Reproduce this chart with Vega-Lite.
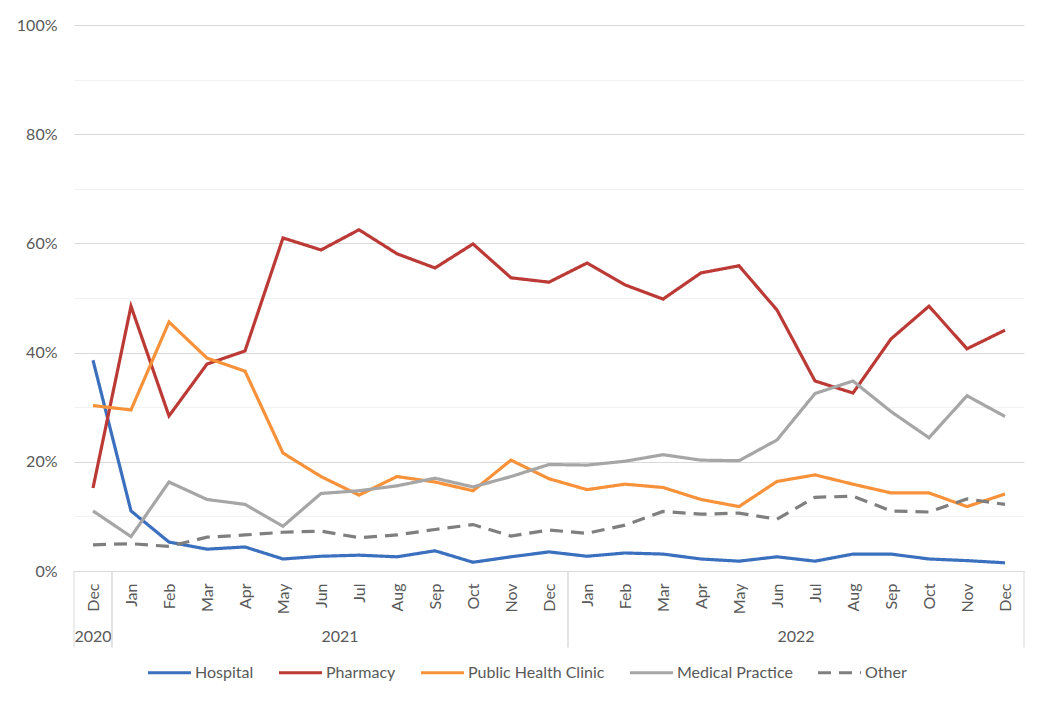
{
  "$schema": "https://vega.github.io/schema/vega-lite/v6.json",
  "width": 950,
  "height": 546,
  "autosize": {"type": "none"},
  "padding": {"left": 74, "top": 25, "right": 26, "bottom": 132},
  "background": "white",
  "config": {
    "view": {"stroke": null},
    "font": "Lato",
    "axis": {"labelFont": "Lato", "labelFontSize": 16, "labelColor": "#595959", "labelOverlap": false, "labelFlush": false, "labelBound": false},
    "legend": {"labelFont": "Lato"}
  },
  "data": {
    "values": [
      {"i": 0, "year": "2020", "mon": "Dec", "Hospital": 0.386, "Pharmacy": 0.152, "Public Health Clinic": 0.303, "Medical Practice": 0.110, "Other": 0.048},
      {"i": 1, "year": "2021", "mon": "Jan", "Hospital": 0.110, "Pharmacy": 0.485, "Public Health Clinic": 0.295, "Medical Practice": 0.063, "Other": 0.050},
      {"i": 2, "year": "2021", "mon": "Feb", "Hospital": 0.053, "Pharmacy": 0.284, "Public Health Clinic": 0.456, "Medical Practice": 0.163, "Other": 0.045},
      {"i": 3, "year": "2021", "mon": "Mar", "Hospital": 0.040, "Pharmacy": 0.379, "Public Health Clinic": 0.390, "Medical Practice": 0.131, "Other": 0.062},
      {"i": 4, "year": "2021", "mon": "Apr", "Hospital": 0.044, "Pharmacy": 0.403, "Public Health Clinic": 0.366, "Medical Practice": 0.122, "Other": 0.066},
      {"i": 5, "year": "2021", "mon": "May", "Hospital": 0.022, "Pharmacy": 0.610, "Public Health Clinic": 0.216, "Medical Practice": 0.082, "Other": 0.071},
      {"i": 6, "year": "2021", "mon": "Jun", "Hospital": 0.027, "Pharmacy": 0.588, "Public Health Clinic": 0.173, "Medical Practice": 0.142, "Other": 0.073},
      {"i": 7, "year": "2021", "mon": "Jul", "Hospital": 0.029, "Pharmacy": 0.625, "Public Health Clinic": 0.139, "Medical Practice": 0.147, "Other": 0.061},
      {"i": 8, "year": "2021", "mon": "Aug", "Hospital": 0.026, "Pharmacy": 0.581, "Public Health Clinic": 0.173, "Medical Practice": 0.156, "Other": 0.066},
      {"i": 9, "year": "2021", "mon": "Sep", "Hospital": 0.037, "Pharmacy": 0.555, "Public Health Clinic": 0.163, "Medical Practice": 0.170, "Other": 0.076},
      {"i": 10, "year": "2021", "mon": "Oct", "Hospital": 0.016, "Pharmacy": 0.599, "Public Health Clinic": 0.147, "Medical Practice": 0.154, "Other": 0.085},
      {"i": 11, "year": "2021", "mon": "Nov", "Hospital": 0.026, "Pharmacy": 0.537, "Public Health Clinic": 0.203, "Medical Practice": 0.173, "Other": 0.064},
      {"i": 12, "year": "2021", "mon": "Dec", "Hospital": 0.035, "Pharmacy": 0.529, "Public Health Clinic": 0.169, "Medical Practice": 0.195, "Other": 0.075},
      {"i": 13, "year": "2022", "mon": "Jan", "Hospital": 0.027, "Pharmacy": 0.564, "Public Health Clinic": 0.149, "Medical Practice": 0.194, "Other": 0.069},
      {"i": 14, "year": "2022", "mon": "Feb", "Hospital": 0.033, "Pharmacy": 0.524, "Public Health Clinic": 0.159, "Medical Practice": 0.201, "Other": 0.084},
      {"i": 15, "year": "2022", "mon": "Mar", "Hospital": 0.031, "Pharmacy": 0.498, "Public Health Clinic": 0.153, "Medical Practice": 0.213, "Other": 0.109},
      {"i": 16, "year": "2022", "mon": "Apr", "Hospital": 0.022, "Pharmacy": 0.546, "Public Health Clinic": 0.131, "Medical Practice": 0.203, "Other": 0.104},
      {"i": 17, "year": "2022", "mon": "May", "Hospital": 0.018, "Pharmacy": 0.559, "Public Health Clinic": 0.118, "Medical Practice": 0.202, "Other": 0.106},
      {"i": 18, "year": "2022", "mon": "Jun", "Hospital": 0.026, "Pharmacy": 0.478, "Public Health Clinic": 0.164, "Medical Practice": 0.240, "Other": 0.095},
      {"i": 19, "year": "2022", "mon": "Jul", "Hospital": 0.018, "Pharmacy": 0.348, "Public Health Clinic": 0.176, "Medical Practice": 0.325, "Other": 0.135},
      {"i": 20, "year": "2022", "mon": "Aug", "Hospital": 0.031, "Pharmacy": 0.326, "Public Health Clinic": 0.159, "Medical Practice": 0.348, "Other": 0.137},
      {"i": 21, "year": "2022", "mon": "Sep", "Hospital": 0.031, "Pharmacy": 0.425, "Public Health Clinic": 0.143, "Medical Practice": 0.292, "Other": 0.110},
      {"i": 22, "year": "2022", "mon": "Oct", "Hospital": 0.022, "Pharmacy": 0.485, "Public Health Clinic": 0.143, "Medical Practice": 0.244, "Other": 0.108},
      {"i": 23, "year": "2022", "mon": "Nov", "Hospital": 0.019, "Pharmacy": 0.407, "Public Health Clinic": 0.118, "Medical Practice": 0.321, "Other": 0.132},
      {"i": 24, "year": "2022", "mon": "Dec", "Hospital": 0.015, "Pharmacy": 0.441, "Public Health Clinic": 0.141, "Medical Practice": 0.283, "Other": 0.122}
    ]
  },
  "layer": [
    {
      "transform": [
        {"fold": ["Hospital", "Pharmacy", "Public Health Clinic", "Medical Practice", "Other"], "as": ["series", "value"]}
      ],
      "mark": {"type": "line", "strokeWidth": 3.2, "strokeCap": "butt", "strokeJoin": "miter", "clip": false},
      "encoding": {
        "x": {
          "field": "i", "type": "quantitative",
          "scale": {"domain": [-0.5, 24.5], "nice": false, "zero": false},
          "axis": {
            "title": null,
            "values": [0,1,2,3,4,5,6,7,8,9,10,11,12,13,14,15,16,17,18,19,20,21,22,23,24],
            "tickCount": 30,
            "labelExpr": "['Dec','Jan','Feb','Mar','Apr','May','Jun','Jul','Aug','Sep','Oct','Nov'][round(datum.value) % 12]",
            "labelAngle": 270,
            "labelPadding": 12,
            "labelOverlap": false,
            "labelFlush": false,
            "labelBound": false,
            "ticks": false,
            "tickSize": 0,
            "grid": false,
            "domain": true,
            "domainColor": "#d9d9d9",
            "domainWidth": 1
          }
        },
        "y": {
          "field": "value", "type": "quantitative",
          "scale": {"domain": [0, 1], "nice": false},
          "axis": {
            "title": null,
            "values": [0, 0.1, 0.2, 0.3, 0.4, 0.5, 0.6, 0.7, 0.8, 0.9, 1],
            "tickCount": 20,
            "labelExpr": "round(datum.value * 10) % 2 == 0 ? format(datum.value, '.0%') : ''",
            "labelPadding": 17,
            "ticks": false,
            "tickSize": 0,
            "domain": false,
            "grid": true,
            "gridColor": {"condition": {"test": "round(datum.value * 10) % 2 == 0", "value": "#d9d9d9"}, "value": "#f2f2f2"},
            "gridWidth": 1
          }
        },
        "color": {
          "field": "series", "type": "nominal",
          "scale": {
            "domain": ["Hospital", "Pharmacy", "Public Health Clinic", "Medical Practice", "Other"],
            "range": ["#3A70BE", "#BC3A36", "#F7923A", "#A6A6A6", "#7F7F7F"]
          },
          "legend": {
            "title": null,
            "orient": "none",
            "direction": "horizontal",
            "legendX": 72,
            "legendY": 624,
            "symbolType": "stroke",
            "symbolSize": 1849,
            "symbolStrokeWidth": 3.2,
            "labelFontSize": 16,
            "labelColor": "#595959",
            "labelOffset": 2,
            "columnPadding": 18,
            "symbolOffset": 0
          }
        },
        "strokeDash": {
          "field": "series", "type": "nominal",
          "scale": {
            "domain": ["Hospital", "Pharmacy", "Public Health Clinic", "Medical Practice", "Other"],
            "range": [[1, 0], [1, 0], [1, 0], [1, 0], [13, 8]]
          },
          "legend": {
            "title": null,
            "orient": "none",
            "direction": "horizontal",
            "legendX": 72,
            "legendY": 624,
            "symbolType": "stroke",
            "symbolSize": 1849,
            "symbolStrokeWidth": 3.2,
            "labelFontSize": 16,
            "labelColor": "#595959",
            "labelOffset": 2,
            "columnPadding": 18,
            "symbolOffset": 0
          }
        }
      }
    },
    {
      "transform": [
        {"aggregate": [{"op": "mean", "field": "i", "as": "center"}], "groupby": ["year"]}
      ],
      "mark": {"type": "text", "fontSize": 16, "color": "#595959", "font": "Lato", "baseline": "middle", "align": "center"},
      "encoding": {
        "x": {"field": "center", "type": "quantitative", "scale": {"domain": [-0.5, 24.5], "nice": false, "zero": false}, "axis": {"title": null}},
        "y": {"datum": -0.12, "type": "quantitative", "scale": {"domain": [0, 1], "nice": false}, "axis": {"title": null}},
        "text": {"field": "year", "type": "nominal"}
      }
    },
    {
      "transform": [
        {"aggregate": [{"op": "min", "field": "i", "as": "first"}], "groupby": ["year"]}
      ],
      "mark": {"type": "rule", "color": "#d9d9d9", "strokeWidth": 1, "xOffset": -19},
      "encoding": {
        "x": {"field": "first", "type": "quantitative", "scale": {"domain": [-0.5, 24.5], "nice": false, "zero": false}, "axis": {"title": null}},
        "y": {"datum": 0, "type": "quantitative", "scale": {"domain": [0, 1], "nice": false}, "axis": {"title": null}},
        "y2": {"datum": -0.14}
      }
    },
    {
      "transform": [
        {"aggregate": [{"op": "max", "field": "i", "as": "last"}], "groupby": ["year"]}
      ],
      "mark": {"type": "rule", "color": "#d9d9d9", "strokeWidth": 1, "xOffset": 19},
      "encoding": {
        "x": {"field": "last", "type": "quantitative", "scale": {"domain": [-0.5, 24.5], "nice": false, "zero": false}, "axis": {"title": null}},
        "y": {"datum": 0, "type": "quantitative", "scale": {"domain": [0, 1], "nice": false}, "axis": {"title": null}},
        "y2": {"datum": -0.14}
      }
    }
  ]
}
